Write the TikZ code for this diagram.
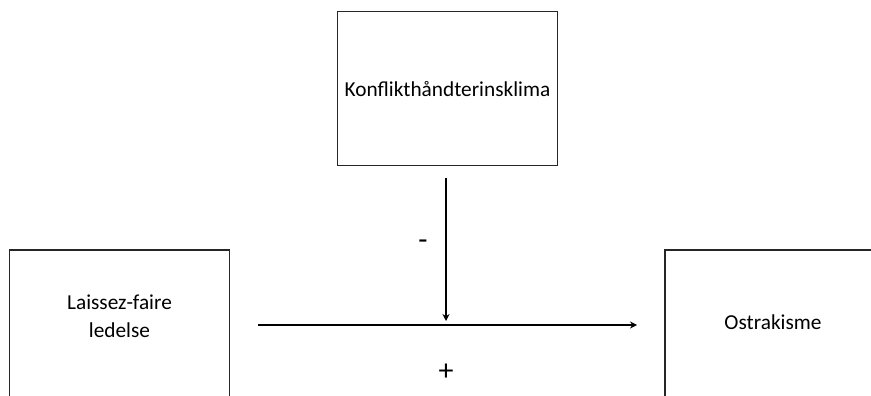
\documentclass[tikz,border=0pt]{standalone}
\usepackage{fontspec}
\setmainfont{Carlito}
\usetikzlibrary{arrows.meta}
\begin{document}
\begin{tikzpicture}[x=1pt,y=1pt,
  box/.style={draw=black!85, line width=1.3pt, minimum width=220pt, minimum height=154pt, inner sep=0pt},
  lbl/.style={font=\fontsize{21.3}{28}\selectfont, align=center, inner sep=0pt},
  sign/.style={font=\fontsize{30}{30}\selectfont, inner sep=0pt},
  link/.style={line width=1.3pt, -{Stealth[length=7pt,width=7pt]}}]
  \useasboundingbox (0,0) rectangle (871,-396);
  \clip (0,0) rectangle (871,-396);
  % top moderator box
  \node[box, lbl] (kon) at (447.5,-88.8) {Konflikthåndterinsklima};
  % predictor and outcome boxes (run past the lower edge)
  \node[box] (lf) at (119.5,-327) {};
  \node[lbl] (lft) at (119.5,-316) {Laissez-faire\\ledelse};
  \node[box, minimum width=216pt] (os) at (773,-327) {};
  \node[lbl] (ost) at (773,-322) {Ostrakisme};
  % connector end points
  \coordinate (hs) at (258,-325);
  \coordinate (he) at (637,-325);
  \coordinate (vs) at (446,-178);
  \coordinate (ve) at (446,-321);
  \draw[link] (hs) -- (he);
  \draw[link] (vs) -- (ve);
  \node[sign] (minus) at (423,-245) {-};
  \node[sign] (plus) at (446,-372) {+};
\end{tikzpicture}
\end{document}
